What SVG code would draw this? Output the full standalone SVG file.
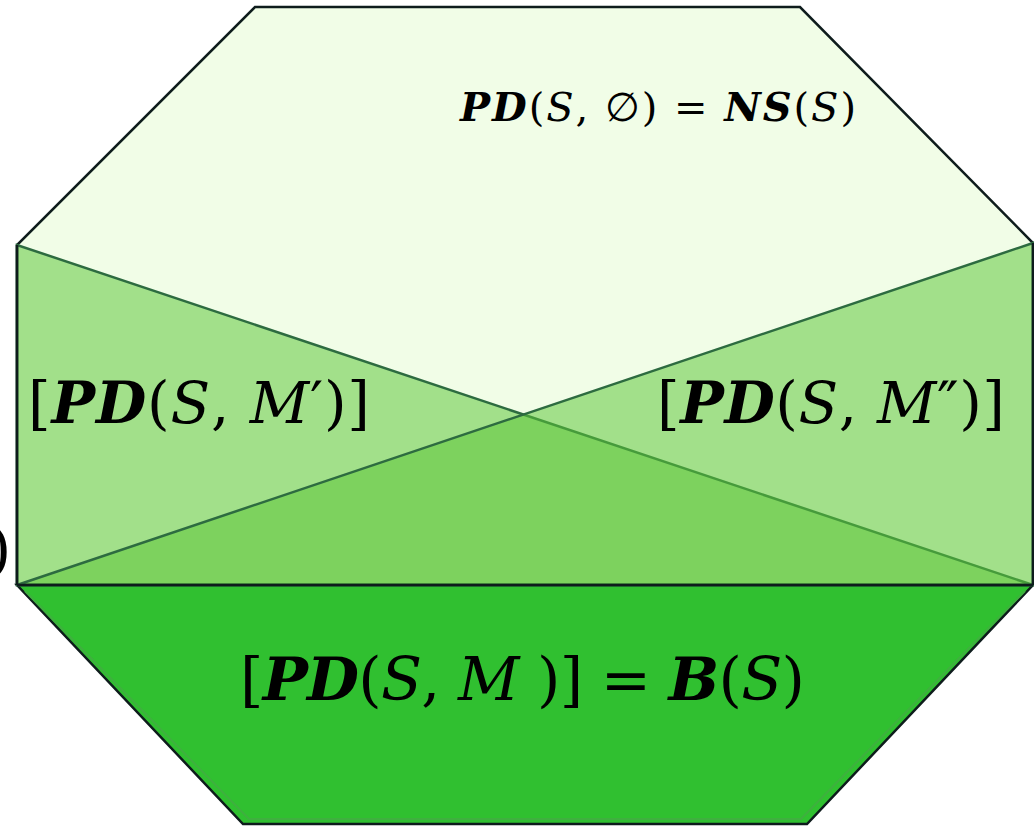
<svg xmlns="http://www.w3.org/2000/svg" width="1034" height="828" viewBox="0 0 1034 828">
<style>
.lbl{font-family:"DejaVu Serif","Liberation Serif",serif;fill:#000;}
.bi{font-weight:bold;font-style:italic;}
.it{font-style:italic;}
.tri{fill:#5dc636;fill-opacity:0.53;stroke:#2d6b40;stroke-width:2.5;}
</style>
<rect width="1034" height="828" fill="#ffffff"/>
<g id="top-region">
<polygon points="255,7 800,7 1033,243 1033,585 17,585 17,245" fill="#f1fde7" stroke="#0e1c1c" stroke-width="2.5"/>
</g>
<g id="bottom-region">
<polygon points="17,585 1033,585 807,824 243,824" fill="#30c030" stroke="#0e1c1c" stroke-width="2.5"/>
<polyline points="25,591 249,819 801,819 1025,591" fill="none" stroke="#3fb03f" stroke-width="2"/>
</g>
<g id="left-triangle">
<polygon class="tri" points="17,245 17,585 1033,585"/>
</g>
<g id="right-triangle">
<polygon class="tri" points="1033,243 1033,585 17,585"/>
</g>
<g id="connectors">
<line x1="17" y1="585" x2="1033" y2="585" stroke="#0e1c1c" stroke-width="2.5"/>
<line x1="17" y1="245" x2="17" y2="585" stroke="#0e1c1c" stroke-width="2.5"/>
<line x1="1033" y1="243" x2="1033" y2="585" stroke="#0e1c1c" stroke-width="2.5"/>
</g>
<g id="label-top">
<text class="lbl" x="460" y="121" font-size="40" textLength="396" lengthAdjust="spacing"><tspan class="bi">PD</tspan>(<tspan class="it">S</tspan>, ∅) = <tspan class="bi">NS</tspan>(<tspan class="it">S</tspan>)</text>
</g>
<g id="label-left">
<text class="lbl" x="28" y="423" font-size="58" textLength="342" lengthAdjust="spacing">[<tspan class="bi">PD</tspan>(<tspan class="it">S</tspan>, <tspan class="it">M</tspan>′)]</text>
</g>
<g id="label-right">
<text class="lbl" x="657" y="423" font-size="58" textLength="348" lengthAdjust="spacing">[<tspan class="bi">PD</tspan>(<tspan class="it">S</tspan>, <tspan class="it">M</tspan>″)]</text>
</g>
<g id="label-bottom">
<text class="lbl" x="240" y="700" font-size="60" textLength="565" lengthAdjust="spacing">[<tspan class="bi">PD</tspan>(<tspan class="it">S</tspan>, <tspan class="it">M</tspan> )] = <tspan class="bi">B</tspan>(<tspan class="it">S</tspan>)</text>
</g>
<g id="cut-label">
<text class="lbl" x="-12" y="570" font-size="60">)</text>
</g>
</svg>
